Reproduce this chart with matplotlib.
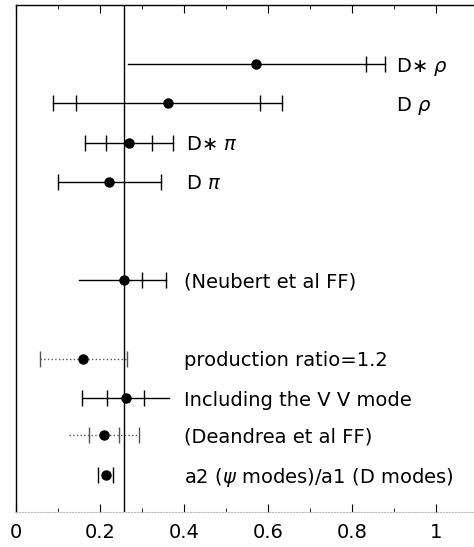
import numpy as np
import matplotlib
matplotlib.use("Agg")
import matplotlib.pyplot as plt
from matplotlib.ticker import MultipleLocator, FuncFormatter

nan = np.nan
labels = ["D\u2217 $\\rho$", "D $\\rho$", "D\u2217 $\\pi$", "D $\\pi$", "(Neubert et al FF)",
          "production ratio=1.2", "Including the V V mode", "(Deandrea et al FF)",
          "a2 ($\\psi$ modes)/a1 (D modes)"]
rows = [1, 2, 3, 4, 6.5, 8.5, 9.5, 10.45, 11.45]
value = [0.571, 0.363, 0.269, 0.221, 0.257, 0.160, 0.262, 0.210, 0.214]
total_lo = [0.267, 0.089, 0.165, 0.099, 0.151, 0.056, 0.157, 0.126, 0.195]
total_hi = [0.879, 0.633, 0.373, 0.345, 0.357, 0.264, 0.364, 0.293, 0.231]
stat_lo = [nan, 0.143, 0.214, nan, nan, nan, 0.217, 0.174, nan]
stat_hi = [0.833, 0.581, 0.324, nan, 0.299, nan, 0.305, 0.245, nan]
lo_cap = [False, True, True, True, False, True, True, False, True]
hi_cap = [True, True, True, True, True, True, False, True, True]
ref_value = 0.257

# styling
line_styles = ['-', '-', '-', '-', '-', ':', '-', ':', 'none']
label_x = [0.905, 0.905, 0.405, 0.405, 0.40, 0.40, 0.40, 0.40, 0.40]

plt.rcParams['font.family'] = ['DejaVu Sans']
plt.rcParams['mathtext.fontset'] = 'dejavusans'
fig = plt.figure(figsize=(4.74, 5.47), dpi=100)
ax = fig.add_axes([16/474, 35/547, 1 - 16/474, (512-5)/547])

ax.set_xlim(0, (474-16)/420)
ax.set_ylim(12.4, -0.5)

ax.axvline(ref_value, color='black', lw=1.0, zorder=1)

for i in range(len(rows)):
    y = rows[i]
    ls = line_styles[i]
    col = 'black' if ls != ':' else '#555555'
    if ls != 'none':
        ax.plot([total_lo[i], total_hi[i]], [y, y], color=col, lw=1.0, ls=ls, zorder=2)
    caps = []
    if lo_cap[i]:
        caps.append(total_lo[i])
    if hi_cap[i]:
        caps.append(total_hi[i])
    for v in (stat_lo[i], stat_hi[i]):
        if not np.isnan(v):
            caps.append(v)
    ax.plot(caps, [y]*len(caps), ls='none', marker='|', markersize=11,
            markeredgewidth=1.0, color=col, zorder=2)
    ax.plot([value[i]], [y], 'o', color='black', markersize=6.5, zorder=3)
    ax.text(label_x[i], y, labels[i], fontsize=14, va='center_baseline', ha='left')

ax.spines['right'].set_visible(False)
ax.spines['bottom'].set_color('#bbbbbb')
ax.spines['bottom'].set_linestyle(':')
ax.spines['top'].set_linewidth(1.0)
ax.spines['left'].set_linewidth(1.0)

ax.xaxis.set_major_locator(MultipleLocator(0.2))
ax.xaxis.set_minor_locator(MultipleLocator(0.1))
ax.xaxis.set_major_formatter(FuncFormatter(lambda v, p: f"{v:g}"))
ax.tick_params(axis='x', which='both', direction='in', top=True, bottom=True,
               labelsize=14, pad=8)
ax.tick_params(axis='x', which='major', length=6)
ax.tick_params(axis='x', which='minor', length=3)
ax.set_yticks([])

fig.savefig("out.png", dpi=100)
